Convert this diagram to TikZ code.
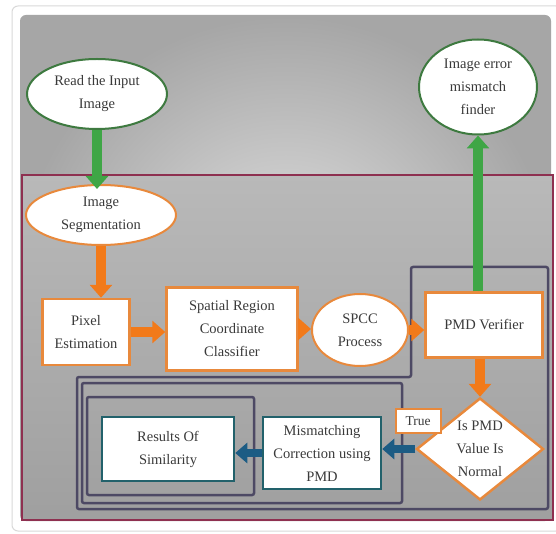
\documentclass[tikz,border=0pt]{standalone}
\usepackage{fontspec}
\setmainfont{Liberation Serif}
\usetikzlibrary{shapes.geometric}
\usetikzlibrary{arrows.meta}
\definecolor{orangebord}{HTML}{E8893C}
\definecolor{orangefleche}{HTML}{F27A1A}
\definecolor{vertbord}{HTML}{3E7A40}
\definecolor{vertfleche}{HTML}{3FA646}
\definecolor{bleubord}{HTML}{22616B}
\definecolor{bleufleche}{HTML}{1C5C84}
\definecolor{cadre}{HTML}{4D4964}
\definecolor{bordeaux}{HTML}{8E3050}
\definecolor{texte}{HTML}{3A3A3A}
\begin{document}
\begin{tikzpicture}[x=1pt,y=-1pt]
\tikzstyle{bulle}=[ellipse,draw=orangebord,line width=2pt,fill=white,inner sep=0pt,text=texte,align=center,font=\fontsize{14.5}{23}\selectfont]
\tikzstyle{bullev}=[bulle,draw=vertbord]
\tikzstyle{boite}=[rectangle,draw=orangebord,line width=2.5pt,fill=white,inner sep=0pt,text=texte,align=center,font=\fontsize{14.5}{23}\selectfont]
\tikzstyle{boiteb}=[boite,draw=bleubord]
\tikzstyle{losange}=[diamond,draw=orangebord,line width=2.5pt,fill=white,inner sep=-6pt,text=texte,align=center,font=\fontsize{14.5}{23}\selectfont]
\tikzstyle{cadre}=[draw=cadre,line width=2.5pt,rounded corners=2pt]
\tikzstyle{fleche}=[draw=orangefleche,line width=10pt,-{Triangle[width=22pt,length=13pt]}]
\tikzstyle{flechev}=[fleche,draw=vertfleche,fill=vertfleche]
\tikzstyle{flecheb}=[fleche,draw=bleufleche,line width=8pt,-{Triangle[width=20pt,length=12pt]}]
\useasboundingbox (0,0) rectangle (556,534);
% fond
\fill[white] (0,0) rectangle (556,534);
\draw[gray!30,line width=1pt,rounded corners=6pt] (12,6) rectangle (562,531);
\shade[inner color=gray!25,outer color=gray!70,rounded corners=6pt] (20,15) rectangle (551,521);
\shade[top color=gray!55,bottom color=gray!75] (22,175) rectangle (553,520);
\draw[bordeaux,line width=2pt] (22,175) rectangle (553,520);
% cadres
\draw[cadre] (411,267) -- (548,267) -- (548,509) -- (77,509) -- (77,377) -- (411,377) -- cycle;
\draw[cadre] (82,383) rectangle (402,503);
\draw[cadre] (87,397) rectangle (254,495);
% noeuds
\node[bullev,minimum width=140pt,minimum height=70pt] (lire) at (97,94) {Read the Input\\Image};
\node[bullev,minimum width=118pt,minimum height=95pt] (erreur) at (478,87) {Image error\\mismatch\\finder};
\node[bulle,minimum width=150pt,minimum height=60pt] (segmentation) at (101,215) {Image\\Segmentation};
\node[boite,minimum width=87pt,minimum height=66pt] (pixel) at (86,332) {Pixel\\Estimation};
\node[boite,minimum width=131pt,minimum height=83pt] (spatial) at (232,329) {Spatial Region\\Coordinate\\Classifier};
\node[bulle,minimum width=96pt,minimum height=72pt] (spcc) at (360,330) {SPCC\\Process};
\node[boite,minimum width=117pt,minimum height=65pt] (pmd) at (484,325) {PMD Verifier};
\node[losange,minimum width=127pt,minimum height=102pt] (normal) at (480,449) {Is PMD\\Value Is\\Normal};
\node[boite,line width=2pt,minimum width=45pt,minimum height=24pt,font=\fontsize{13.5}{16}\selectfont] (vrai) at (418,421) {True};
\node[boiteb,minimum width=118pt,minimum height=72pt] (correction) at (322,453) {Mismatching\\Correction using\\PMD};
\node[boiteb,minimum width=132pt,minimum height=64pt] (resultats) at (168,449) {Results Of\\Similarity};
% liaisons
\draw[flechev] (lire.south) -- ([yshift=-5pt]lire.south |- segmentation.north);
\draw[flechev] (erreur.south |- pmd.north) -- (erreur.south);
\draw[fleche] (segmentation.south) -- (segmentation.south |- pixel.north);
\draw[fleche] (pixel.east) -- (pixel.east -| spatial.west);
\draw[fleche] (spatial.east) -- (spatial.east -| spcc.west);
\draw[fleche] (spcc.east) -- (spcc.east -| pmd.west);
\draw[fleche] (normal.north |- pmd.south) -- (normal.north);
\draw[flecheb] (normal.west) -- (normal.west -| correction.east);
\draw[flecheb] (correction.west) -- (correction.west -| resultats.east);
\end{tikzpicture}
\end{document}
